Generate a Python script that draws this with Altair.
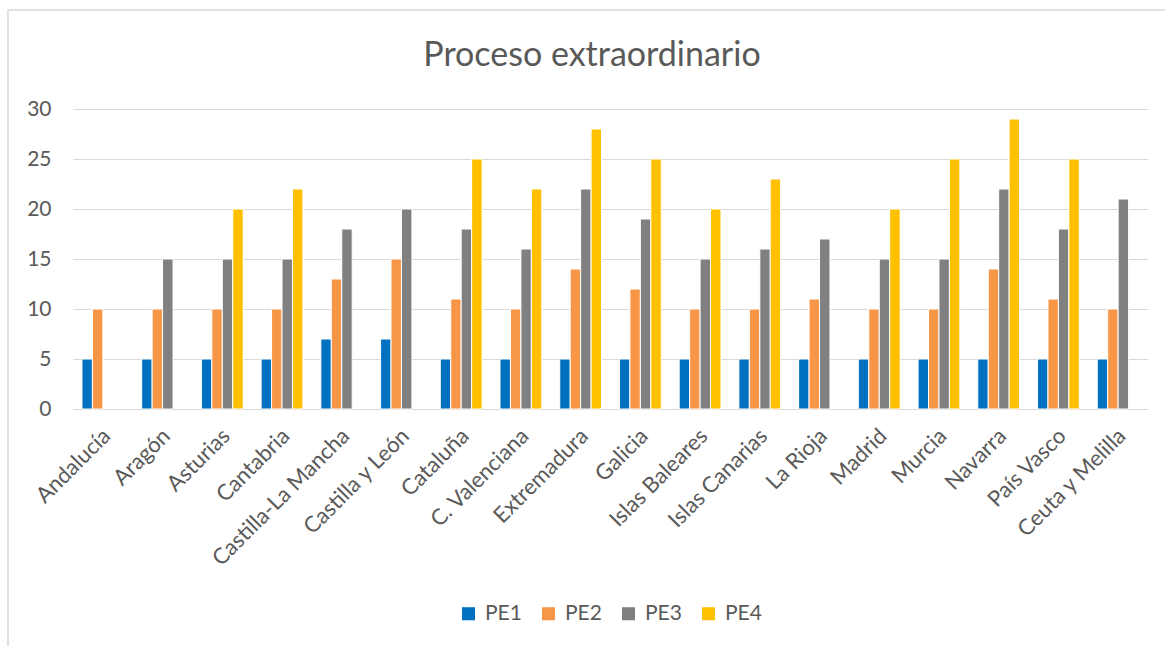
import altair as alt
import pandas as pd

regions = ["Andalucía", "Aragón", "Asturias", "Cantabria", "Castilla-La Mancha",
           "Castilla y León", "Cataluña", "C. Valenciana", "Extremadura", "Galicia",
           "Islas Baleares", "Islas Canarias", "La Rioja", "Madrid", "Murcia",
           "Navarra", "País Vasco", "Ceuta y Melilla"]
series = ["PE1", "PE2", "PE3", "PE4"]
pe1 = [5, 5, 5, 5, 7, 7, 5, 5, 5, 5, 5, 5, 5, 5, 5, 5, 5, 5]
pe2 = [10, 10, 10, 10, 13, 15, 11, 10, 14, 12, 10, 10, 11, 10, 10, 14, 11, 10]
pe3 = [None, 15, 15, 15, 18, 20, 18, 16, 22, 19, 15, 16, 17, 15, 15, 22, 18, 21]
pe4 = [None, None, 20, 22, None, None, 25, 22, 28, 25, 20, 23, None, 20, 25, 29, 25, None]
colors = ["#0070C0", "#F79646", "#808080", "#FFC000"]
title_text = "Proceso extraordinario"

rows = []
for s, vals in zip(series, [pe1, pe2, pe3, pe4]):
    for r, v in zip(regions, vals):
        if v is not None:
            rows.append({"region": r, "serie": s, "valor": v})
df = pd.DataFrame(rows)

FONT = "Lato"
GREY = "#595959"

bars = alt.Chart(df).mark_bar(stroke="white", strokeWidth=1).encode(
    x=alt.X("region:N", sort=regions, title=None,
            scale=alt.Scale(paddingInner=0.3, paddingOuter=0.15),
            axis=alt.Axis(labelAngle=315, labelAlign="right", labelBaseline="middle",
                          labelFontSize=22, labelFont=FONT, labelColor=GREY,
                          labelPadding=23, labelOffset=4, labelLimit=400, ticks=False,
                          domain=False, grid=False)),
    xOffset=alt.XOffset("serie:N", sort=series, scale=alt.Scale(paddingInner=0, paddingOuter=0)),
    y=alt.Y("valor:Q", title=None,
            scale=alt.Scale(domain=[0, 30], nice=False),
            axis=alt.Axis(values=[0, 5, 10, 15, 20, 25, 30], labelFontSize=21, labelFont=FONT,
                          labelColor=GREY, labelPadding=22, ticks=False, domain=False,
                          grid=True, gridColor="#D9D9D9", gridWidth=1.2)),
    color=alt.Color("serie:N", sort=series,
                    scale=alt.Scale(domain=series, range=colors),
                    legend=alt.Legend(title=None, orient="none", direction="horizontal",
                                      legendX=385, legendY=494, symbolType="square",
                                      symbolSize=170, symbolStrokeWidth=0,
                                      labelFontSize=21, labelFont=FONT, labelColor=GREY,
                                      labelOffset=6, columnPadding=16)),
)

border = alt.Chart(alt.Data(values=[{}])).mark_rect(
    fill="white", fillOpacity=0, stroke="#D9D9D9", strokeWidth=1.5
).encode(x=alt.value(-65), x2=alt.value(1110), y=alt.value(-99), y2=alt.value(545))

title = alt.Chart(alt.Data(values=[{"t": title_text}])).mark_text(
    font=FONT, fontSize=34, color=GREY, align="center", baseline="alphabetic"
).encode(x=alt.value(519), y=alt.value(-43), text="t:N")

chart = alt.layer(border, title, bars).properties(
    width=1075, height=300,
    padding={"left": 73, "top": 109, "right": 17, "bottom": 237},
    autosize=alt.AutoSizeParams(type="none"),
).configure_view(stroke=None)

chart.save("out.html", embed_options={"renderer": "svg", "actions": False})
